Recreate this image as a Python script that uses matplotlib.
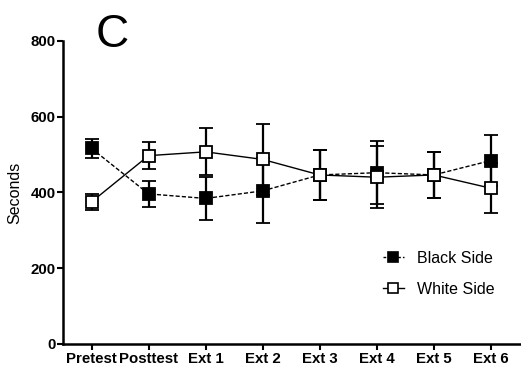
import matplotlib
matplotlib.use("Agg")
import matplotlib.pyplot as plt
from matplotlib.lines import Line2D
import numpy as np

categories = ["Pretest", "Posttest", "Ext 1", "Ext 2", "Ext 3", "Ext 4", "Ext 5", "Ext 6"]
black_mean = [516, 396, 384, 404, 446, 452, 446, 484]
black_err = [24, 35, 57, 86, 66, 84, 60, 67]
white_mean = [375, 497, 507, 487, 446, 440, 446, 411]
white_err = [21, 35, 62, 93, 66, 82, 60, 66]
yticks = [0, 200, 400, 600, 800]

plt.rcParams['font.family'] = ['Liberation Sans', 'DejaVu Sans']

fig = plt.figure(figsize=(5.21, 3.75), dpi=100)
ax = fig.add_axes([0.121, 0.083, 0.879, 0.808])
x = np.arange(len(categories))

black_ls = (0, (3, 1.5))
ax.errorbar(x, black_mean, yerr=black_err, color='black', ls=black_ls, lw=1.0,
            marker='s', ms=8, mfc='black', mec='black', mew=1.3,
            ecolor='black', elinewidth=1.6, capsize=5, capthick=1.6, zorder=3)
ax.errorbar(x, white_mean, yerr=white_err, color='black', ls='-', lw=1.0,
            marker='s', ms=8, mfc='white', mec='black', mew=1.3,
            ecolor='black', elinewidth=1.6, capsize=5, capthick=1.6, zorder=4)

ax.set_xlim(-0.5, 7.53)
ax.set_ylim(0, 800)
ax.set_yticks(yticks)
ax.set_xticks(x)
ax.set_xticklabels(categories, fontsize=10.8, fontweight='bold')
ax.set_yticklabels([str(t) for t in yticks], fontsize=10.8, fontweight='bold')
for s in ['top', 'right']:
    ax.spines[s].set_visible(False)
for s in ['left', 'bottom']:
    ax.spines[s].set_linewidth(1.8)
ax.tick_params(axis='both', width=1.5, length=4, direction='out', pad=1.5)
ax.set_ylabel("Seconds", fontsize=11.5, labelpad=6)

handles = [
    Line2D([], [], color='black', ls=(0, (2, 1.5)), lw=1.0, marker='s', ms=7,
           mfc='black', mec='black', mew=1.2),
    Line2D([], [], color='black', ls='-', lw=1.0, marker='s', ms=7,
           mfc='white', mec='black', mew=1.2),
]
fig.legend(handles, ["Black Side", "White Side"], loc='upper left',
           bbox_to_anchor=(383 / 521, 1 - 251 / 375), frameon=False, fontsize=11.5,
           handlelength=1.3, labelspacing=1.0, handletextpad=0.8,
           borderpad=0, borderaxespad=0)

fig.text(0.215, 0.965, "C", fontsize=33, ha='center', va='top')

fig.savefig("out.png", dpi=100)
